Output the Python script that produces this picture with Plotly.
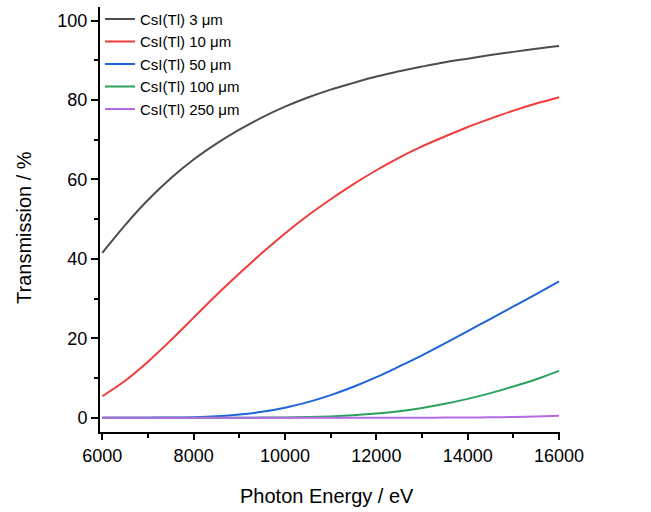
import plotly.graph_objects as go

energy = [6000, 6500, 7000, 7500, 8000, 8500, 9000, 9500, 10000, 10500, 11000,
          11500, 12000, 12500, 13000, 13500, 14000, 14500, 15000, 15500, 16000]

t_3um = [41.5, 48.5, 54.8, 60.3, 65.0, 69.0, 72.5, 75.6, 78.3, 80.6, 82.6,
         84.3, 85.9, 87.2, 88.4, 89.5, 90.4, 91.3, 92.1, 92.9, 93.6]
t_10um = [5.4, 9.3, 14.1, 19.5, 25.2, 30.9, 36.3, 41.5, 46.4, 50.9, 55.0,
          58.8, 62.3, 65.5, 68.3, 70.8, 73.2, 75.3, 77.3, 79.1, 80.7]
t_50um = [0.0, 0.0, 0.01, 0.04, 0.14, 0.36, 0.78, 1.48, 2.52, 3.92, 5.69,
          7.79, 10.2, 12.9, 15.7, 18.7, 21.8, 24.9, 28.0, 31.1, 34.3]
t_100um = [0.0, 0.0, 0.0, 0.0, 0.0, 0.0, 0.01, 0.02, 0.06, 0.15, 0.32,
           0.61, 1.04, 1.65, 2.46, 3.50, 4.74, 6.19, 7.85, 9.69, 11.8]
t_250um = [0.0, 0.0, 0.0, 0.0, 0.0, 0.0, 0.0, 0.0, 0.0, 0.0, 0.0,
           0.0, 0.0, 0.0, 0.01, 0.02, 0.05, 0.10, 0.17, 0.29, 0.48]

series_names = ["CsI(Tl) 3 μm", "CsI(Tl) 10 μm", "CsI(Tl) 50 μm",
                "CsI(Tl) 100 μm", "CsI(Tl) 250 μm"]
series_values = [t_3um, t_10um, t_50um, t_100um, t_250um]
series_colors = ["#4d4d4d", "#f23c3c", "#1f64d6", "#2aa25e", "#b36ae2"]

x_ticks = [6000, 8000, 10000, 12000, 14000, 16000]
y_ticks = [0, 20, 40, 60, 80, 100]

fig = go.Figure()
for name, vals, col in zip(series_names, series_values, series_colors):
    fig.add_trace(go.Scatter(x=energy, y=vals, name=name, mode="lines",
                             line=dict(color=col, width=2, shape="spline")))

font = "Liberation Sans, Arial, sans-serif"
fig.update_layout(
    width=651, height=512,
    margin=dict(l=100, r=91, t=7, b=80, autoexpand=False),
    paper_bgcolor="white", plot_bgcolor="white",
    font=dict(family=font, color="black"),
    showlegend=True,
    legend=dict(x=0.0, y=1.01, xanchor="left", yanchor="top",
                bgcolor="rgba(0,0,0,0)", font=dict(size=15, family=font),
                tracegroupgap=0, itemwidth=30),
    annotations=[
        dict(text="Photon Energy / eV", xref="paper", yref="paper", x=0.494, y=0,
             xanchor="center", yanchor="middle", yshift=-64, showarrow=False,
             font=dict(size=20, family=font, color="black")),
        dict(text="Transmission / %", xref="paper", yref="paper", x=0, y=0.48,
             xanchor="center", yanchor="middle", xshift=-76, textangle=-90,
             showarrow=False, font=dict(size=20, family=font, color="black")),
    ],
)
fig.update_xaxes(
    range=[5950, 16020], tickvals=x_ticks, ticktext=[str(v) for v in x_ticks],
    showgrid=False, zeroline=False, showline=True, linecolor="black", linewidth=2,
    ticks="outside", ticklen=6, tickwidth=1.5, tickcolor="black", automargin=False,
    tickfont=dict(size=18),
    minor=dict(ticks="outside", ticklen=4, tickwidth=1.5, tickcolor="black", dtick=1000, tick0=6000),
)
fig.update_yaxes(
    range=[-3.6, 103.4], tickvals=y_ticks, ticktext=[str(v) for v in y_ticks],
    showgrid=False, zeroline=False, showline=True, linecolor="black", linewidth=2,
    ticks="outside", ticklen=7, tickwidth=1.5, tickcolor="black", automargin=False,
    tickfont=dict(size=18),
    minor=dict(ticks="outside", ticklen=4, tickwidth=1.5, tickcolor="black", dtick=10, tick0=0),
)

fig.write_html("out.html", config={"displayModeBar": False},
               post_script="document.body.style.margin='0';")
